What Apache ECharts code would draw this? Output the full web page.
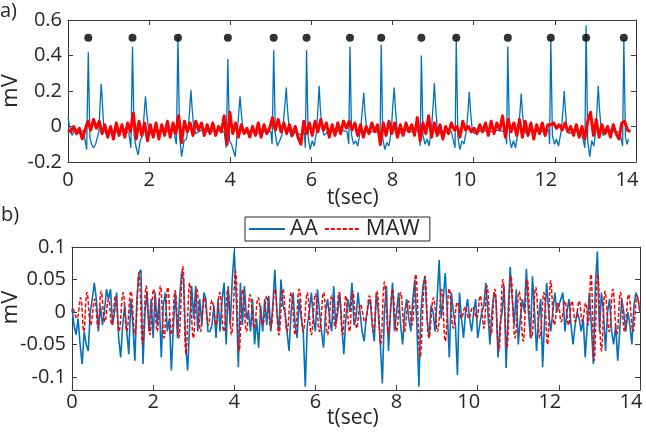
<!DOCTYPE html>
<html><head><meta charset="utf-8">
<script src="https://cdn.jsdelivr.net/npm/echarts/dist/echarts.min.js"></script>
<style>html,body{margin:0;padding:0;background:#fff}#c{width:646px;height:435px}</style>
</head><body><div id="c"></div>
<script>
// ---------- data ----------
const xTicks = [0, 2, 4, 6, 8, 10, 12, 14];
const yTicksA = [-0.2, 0, 0.2, 0.4, 0.6];
const yTicksB = [-0.1, -0.05, 0, 0.05, 0.1];

// panel a: detected R peaks (sec) and marker level (mV)
const rPeakTimes = [0.50, 1.59, 2.71, 3.94, 5.07, 5.88, 6.95, 7.72, 8.71, 9.57, 10.84, 11.90, 12.77, 13.70];
const rPeakMarkerLevel = 0.5;

// panel a: ECG (blue) as [t, mV] vertices
const ecgPoints = [
 [0,0.05],[0.04,0.0],[0.1,-0.05],[0.18,-0.01],[0.28,-0.04],[0.38,-0.02],[0.46,-0.13],[0.5,0.42],[0.54,-0.06],[0.58,-0.1],[0.63,-0.12],[0.68,-0.1],[0.72,-0.11],[0.76,-0.03],[0.79,0.12],[0.82,0.24],[0.85,0.12],[0.88,0.0],[0.93,-0.04],[1.05,-0.02],[1.2,-0.03],[1.35,-0.01],[1.5,-0.04],
 [1.55,-0.12],[1.59,0.45],[1.63,-0.05],[1.68,-0.12],[1.73,-0.16],[1.78,-0.08],[1.84,-0.05],[1.88,0.08],[1.91,0.17],[1.94,0.08],[1.98,-0.01],[2.03,-0.04],[2.2,-0.02],[2.4,-0.03],[2.6,-0.02],
 [2.67,-0.1],[2.71,0.5],[2.75,-0.05],[2.8,-0.17],[2.86,-0.08],[2.92,-0.07],[2.97,0.0],[3.0,0.1],[3.03,0.205],[3.06,0.1],[3.1,-0.01],[3.15,-0.04],[3.3,-0.02],[3.5,-0.03],[3.7,-0.02],[3.85,-0.03],
 [3.9,-0.12],[3.94,0.38],[3.98,-0.08],[4.03,-0.1],[4.08,-0.14],[4.12,-0.17],[4.17,-0.04],[4.21,0.08],[4.24,0.17],[4.27,0.08],[4.31,-0.01],[4.36,-0.04],[4.5,-0.02],[4.7,-0.04],[4.9,-0.02],[5.0,-0.03],
 [5.03,-0.1],[5.07,0.43],[5.11,-0.04],[5.16,-0.11],[5.22,-0.08],[5.28,-0.04],[5.34,0.1],[5.38,0.22],[5.41,0.1],[5.45,-0.01],[5.5,-0.06],[5.6,-0.03],[5.75,-0.05],[5.82,-0.03],
 [5.85,-0.12],[5.88,0.43],[5.92,-0.06],[5.97,-0.13],[6.02,-0.08],[6.07,-0.11],[6.13,-0.02],[6.16,0.1],[6.19,0.23],[6.22,0.1],[6.26,-0.01],[6.31,-0.05],[6.45,-0.02],[6.6,-0.03],[6.75,-0.02],[6.88,-0.03],
 [6.92,-0.1],[6.95,0.45],[6.99,-0.05],[7.04,-0.1],[7.09,-0.08],[7.14,-0.11],[7.21,-0.02],[7.25,0.08],[7.29,0.19],[7.32,0.08],[7.36,-0.01],[7.41,-0.04],[7.55,-0.02],[7.66,-0.04],
 [7.69,-0.11],[7.72,0.46],[7.76,-0.07],[7.81,-0.13],[7.86,-0.09],[7.91,-0.11],[7.97,-0.02],[8.0,0.1],[8.04,0.22],[8.07,0.1],[8.11,-0.01],[8.16,-0.04],[8.3,-0.02],[8.45,-0.03],[8.6,-0.02],[8.66,-0.04],
 [8.68,-0.11],[8.71,0.4],[8.75,-0.05],[8.8,-0.1],[8.85,-0.07],[8.9,-0.11],[8.96,-0.01],[9.0,0.12],[9.03,0.245],[9.06,0.12],[9.1,-0.01],[9.15,-0.04],[9.3,-0.02],[9.45,-0.03],
 [9.54,-0.12],[9.57,0.49],[9.61,-0.06],[9.66,-0.13],[9.71,-0.08],[9.76,-0.1],[9.82,-0.02],[9.86,0.09],[9.89,0.195],[9.92,0.09],[9.96,-0.01],[10.01,-0.04],[10.2,-0.02],[10.4,-0.03],[10.6,-0.02],[10.78,-0.03],
 [10.81,-0.1],[10.84,0.45],[10.88,-0.06],[10.93,-0.12],[10.98,-0.08],[11.03,-0.12],[11.1,-0.02],[11.14,0.08],[11.17,0.185],[11.2,0.08],[11.24,-0.01],[11.29,-0.04],[11.45,-0.02],[11.65,-0.03],[11.85,-0.02],
 [11.87,-0.1],[11.9,0.49],[11.94,-0.05],[11.99,-0.1],[12.04,-0.07],[12.09,-0.11],[12.16,-0.02],[12.2,0.09],[12.23,0.2],[12.26,0.09],[12.3,-0.01],[12.35,-0.04],[12.5,-0.02],[12.65,-0.03],
 [12.74,-0.12],[12.77,0.57],[12.81,-0.08],[12.86,-0.17],[12.91,-0.08],[12.96,-0.11],[13.01,-0.02],[13.04,0.1],[13.07,0.23],[13.1,0.1],[13.14,-0.01],[13.19,-0.05],[13.35,-0.02],[13.5,-0.03],[13.6,-0.03],
 [13.67,-0.11],[13.7,0.49],[13.74,-0.06],[13.78,-0.1],[13.82,-0.07]
];

// panel a: red noise, sampled every noiseStep seconds (mV)
const noiseStep = 0.07;
const noiseValues = [
 -0.02,-0.03,0.0,-0.04,-0.01,-0.07,-0.02,0.03,-0.02,0.04,
 -0.01,0.03,-0.04,0.01,-0.06,0.0,-0.07,0.02,-0.05,0.01,
 -0.06,0.02,-0.03,0.075,-0.07,0.03,-0.05,0.02,-0.08,0.01,
 -0.06,0.02,-0.07,0.01,-0.05,0.03,-0.06,0.02,-0.04,0.06,
 -0.09,0.03,-0.03,0.02,-0.05,0.03,-0.02,0.02,-0.05,0.01,
 -0.04,0.02,-0.05,0.0,-0.03,0.06,-0.1,0.08,-0.04,0.02,
 -0.06,0.01,-0.04,-0.01,-0.06,0.0,-0.05,0.02,-0.06,0.01,
 -0.04,-0.01,0.05,-0.02,0.04,-0.03,0.02,-0.04,0.01,-0.05,
 0.0,-0.06,-0.1,0.03,-0.04,0.02,-0.05,0.03,-0.03,0.04,
 -0.02,0.02,-0.06,0.01,-0.05,0.02,-0.04,0.03,-0.01,0.03,
 -0.02,0.02,-0.05,0.01,-0.06,0.0,-0.04,0.02,-0.03,0.01,
 -0.1,0.02,-0.05,0.03,-0.04,0.02,-0.06,0.01,-0.05,0.02,
 -0.03,0.01,-0.05,0.05,-0.08,0.02,-0.04,0.06,-0.06,0.02,
 -0.05,0.01,-0.07,0.0,-0.04,0.02,-0.02,0.0,-0.06,0.03,
 -0.02,0.0,-0.03,-0.01,-0.04,0.01,-0.03,0.02,-0.05,0.03,
 -0.04,0.02,-0.02,0.06,-0.06,0.04,-0.03,0.02,-0.05,0.04,
 -0.06,0.03,-0.05,0.02,-0.07,0.01,-0.04,0.02,-0.05,0.01,
 0.01,0.02,-0.01,0.01,-0.02,0.02,-0.03,0.0,-0.05,0.01,
 -0.06,0.0,-0.07,0.03,0.08,-0.05,0.04,-0.06,0.01,-0.04,
 0.0,-0.06,0.01,-0.04,-0.07,0.02,0.03,-0.02,-0.03
];

// panel b: AA (blue), sampled every aaStep seconds (mV)
const aaStep = 0.05;
const aaValues = [
 0.005,-0.02,-0.035,-0.01,-0.05,-0.08,-0.03,-0.05,-0.06,0.0,0.02,0.045,0.02,-0.03,0.01,-0.02,0.0,0.035,0.02,0.035,
 -0.02,0.0,0.03,-0.04,-0.07,-0.02,0.01,-0.03,-0.065,0.02,-0.02,-0.075,0.02,0.06,0.065,-0.08,0.0,0.03,-0.03,0.02,
 -0.04,0.03,-0.02,0.02,-0.07,0.01,0.03,-0.03,-0.01,-0.09,-0.02,0.03,-0.04,0.02,0.06,0.05,-0.05,-0.09,-0.02,0.04,
 -0.01,0.04,-0.03,0.02,-0.02,0.03,0.02,-0.03,-0.03,-0.02,0.01,-0.04,0.02,-0.03,0.02,0.045,-0.05,0.04,-0.02,0.05,
 0.094,0.02,-0.085,0.045,-0.02,0.04,-0.01,0.0,-0.03,0.02,-0.05,-0.01,-0.055,0.01,-0.03,0.02,-0.02,0.025,-0.03,0.01,
 0.065,0.0,-0.03,0.05,0.01,0.0,-0.03,-0.06,0.0,0.03,-0.02,-0.04,0.02,-0.01,-0.03,-0.115,-0.02,0.0,0.03,-0.01,
 -0.03,0.035,0.0,-0.03,-0.055,0.0,0.02,-0.01,-0.03,0.04,-0.02,0.0,0.03,-0.02,-0.065,-0.01,0.02,0.0,0.045,-0.02,
 -0.01,0.03,0.0,-0.03,-0.045,-0.01,0.01,0.02,-0.02,-0.045,0.03,0.0,-0.05,-0.11,0.0,0.04,-0.06,0.0,0.045,-0.03,
 0.0,0.03,-0.02,-0.05,0.0,0.02,-0.01,-0.03,0.02,0.05,-0.02,-0.115,0.0,0.04,0.055,-0.01,-0.04,0.01,0.0,-0.03,
 0.02,0.08,-0.01,0.02,0.06,0.0,-0.07,0.03,0.0,-0.02,-0.097,0.03,-0.01,-0.04,0.0,0.02,-0.01,-0.03,0.0,0.02,
 -0.04,-0.02,0.0,0.01,0.045,0.0,-0.05,0.0,0.03,0.02,-0.07,-0.02,0.0,0.04,-0.086,0.0,0.069,0.02,-0.02,0.035,
 -0.05,-0.01,0.02,0.0,0.066,0.0,-0.04,0.055,0.0,-0.06,-0.01,0.02,-0.085,-0.01,0.045,0.0,-0.03,0.0,0.03,0.0,
 0.01,0.02,0.03,-0.03,0.0,0.02,-0.02,-0.05,-0.02,0.0,-0.01,-0.03,-0.01,-0.07,-0.02,0.03,-0.02,-0.08,0.04,0.093,
 -0.03,0.03,0.0,-0.06,0.0,0.02,-0.03,-0.05,-0.02,-0.075,-0.03,0.02,0.0,-0.03,0.0,-0.02,-0.05,0.01,0.03,0.02,
 0.0
];

// panel b: MAW (red dashed) extremes as [t, mV]
const mawPoints = [
 [0.03,0.005],[0.12,-0.01],[0.21,0.022],[0.29,-0.03],[0.37,0.03],[0.46,-0.02],[0.56,0.02],[0.64,-0.025],[0.72,0.032],[0.81,-0.015],
 [0.9,0.02],[0.98,-0.02],[1.07,0.025],[1.16,-0.03],[1.26,0.03],[1.35,-0.03],[1.45,0.032],[1.55,-0.035],[1.65,0.06],[1.74,-0.05],
 [1.83,0.04],[1.92,-0.035],[2.01,0.035],[2.1,-0.03],[2.18,0.04],[2.27,-0.04],[2.36,0.038],[2.45,-0.035],[2.54,0.033],[2.63,-0.04],
 [2.73,0.07],[2.81,-0.065],[2.9,0.045],[2.99,-0.04],[3.08,0.035],[3.17,-0.03],[3.26,0.022],[3.36,-0.02],[3.45,0.018],[3.55,-0.02],
 [3.64,0.03],[3.74,-0.03],[3.84,0.035],[3.93,-0.035],[4.03,0.063],[4.12,-0.06],[4.21,0.035],[4.3,-0.03],[4.39,0.027],[4.49,-0.025],
 [4.59,0.022],[4.7,-0.02],[4.8,0.025],[4.9,-0.025],[5.0,0.035],[5.1,-0.035],[5.2,0.035],[5.3,-0.03],[5.4,0.03],[5.5,-0.035],
 [5.6,0.035],[5.7,-0.03],[5.8,0.03],[5.9,-0.035],[6.0,0.028],[6.1,-0.03],[6.2,0.03],[6.3,-0.035],[6.4,0.025],[6.49,-0.025],
 [6.58,0.03],[6.67,-0.035],[6.75,0.025],[6.84,-0.03],[6.92,0.032],[7.02,-0.025],[7.11,0.012],[7.22,-0.015],[7.33,0.025],[7.43,-0.03],
 [7.52,0.032],[7.61,-0.05],[7.7,0.046],[7.8,-0.035],[7.9,0.035],[8.0,-0.03],[8.1,0.03],[8.2,-0.03],[8.29,0.017],[8.38,-0.02],
 [8.47,0.058],[8.58,-0.07],[8.7,0.055],[8.8,-0.04],[8.91,0.022],[9.01,-0.03],[9.11,0.035],[9.2,-0.045],[9.3,0.036],[9.4,-0.025],
 [9.5,0.015],[9.6,-0.01],[9.69,0.008],[9.78,-0.01],[9.88,0.008],[9.97,-0.01],[10.06,0.025],[10.15,-0.025],[10.23,0.04],[10.33,-0.035],
 [10.42,0.035],[10.52,-0.06],[10.62,0.05],[10.72,-0.055],[10.82,0.055],[10.92,-0.04],[11.02,0.032],[11.12,-0.045],[11.22,0.05],[11.33,-0.04],
 [11.43,0.038],[11.53,-0.04],[11.63,0.03],[11.72,-0.05],[11.8,0.048],[11.89,-0.02],[11.98,0.015],[12.06,-0.015],[12.15,0.017],[12.24,-0.02],
 [12.32,0.017],[12.41,-0.015],[12.5,0.017],[12.58,-0.015],[12.66,0.014],[12.72,-0.02],[12.79,0.058],[12.87,-0.075],[12.96,0.058],[13.05,-0.06],
 [13.14,0.032],[13.24,-0.03],[13.33,0.035],[13.43,-0.035],[13.52,0.03],[13.62,-0.03],[13.72,0.027],[13.83,-0.03],[13.93,0.025],[14.0,0.0]
];

// ---------- chart ----------
const FONT = 'Open Sans';
const INK = '#262626';
const AX = '#3a3a3a';
const BLUE = '#0072BD';
const RED = '#FF0000';

function xLabelFmt(v) { return v >= 10 ? '{w|' + v + '}' : String(v); }
const xRich = { w: { padding: [0, 18, 0, 0], fontSize: 20, fontFamily: FONT, color: INK } };

function xBottom(grid, margin) {
  return {
    type: 'value', gridIndex: grid, position: 'bottom', min: 0, max: 14, interval: 2,
    axisLine: { show: true, onZero: false, lineStyle: { color: AX, width: 1 } },
    axisTick: { show: true, inside: true, length: 5, lineStyle: { color: AX } },
    splitLine: { show: false },
    axisLabel: { margin: margin, fontSize: 20, fontFamily: FONT, color: INK, formatter: xLabelFmt, rich: xRich }
  };
}
function xTop(grid) {
  return {
    type: 'value', gridIndex: grid, position: 'top', min: 0, max: 14, interval: 2,
    axisLine: { show: true, onZero: false, lineStyle: { color: AX, width: 1 } },
    axisTick: { show: true, inside: true, length: 5, lineStyle: { color: AX } },
    splitLine: { show: false }, axisLabel: { show: false }
  };
}
function yLeft(grid, min, max, ticks, nameGap, namePad) {
  return {
    type: 'value', gridIndex: grid, position: 'left', min: min, max: max,
    axisLine: { show: true, onZero: false, lineStyle: { color: AX, width: 1 } },
    axisTick: { show: true, inside: true, length: 5, customValues: ticks, lineStyle: { color: AX } },
    splitLine: { show: false },
    axisLabel: { customValues: ticks, margin: 6, fontSize: 20, fontFamily: FONT, color: INK, formatter: v => String(v) },
    name: 'mV', nameLocation: 'middle', nameGap: nameGap, nameMoveOverlap: false,
    nameTextStyle: { fontSize: 22, fontFamily: FONT, color: INK, padding: namePad }
  };
}
function yRight(grid, min, max, ticks) {
  return {
    type: 'value', gridIndex: grid, position: 'right', min: min, max: max,
    axisLine: { show: true, onZero: false, lineStyle: { color: AX, width: 1 } },
    axisTick: { show: true, inside: true, length: 5, customValues: ticks, lineStyle: { color: AX } },
    splitLine: { show: false }, axisLabel: { show: false }
  };
}
const txt = { fontSize: 20, fontWeight: 'normal', fontFamily: FONT, color: INK };
const axTitle = { fontSize: 21, fontWeight: 'normal', fontFamily: FONT, color: INK };

const chart = echarts.init(document.getElementById('c'), null, { renderer: 'canvas' });
chart.setOption({
  animation: false,
  backgroundColor: '#ffffff',
  title: [
    { text: 'a)', left: 0, top: 1, padding: 0, textStyle: txt },
    { text: 'b)', left: 1, top: 205, padding: 0, textStyle: txt },
    { text: 't(sec)', left: 327, top: 188, padding: 0, textStyle: axTitle },
    { text: 't(sec)', left: 327, top: 408, padding: 0, textStyle: axTitle }
  ],
  legend: {
    data: ['AA', 'MAW'], left: 245, top: 217, orient: 'horizontal',
    borderColor: INK, borderWidth: 1, borderRadius: 0, padding: [1, 10, 1, 3],
    itemWidth: 36, itemHeight: 12, itemGap: 6,
    itemStyle: { opacity: 0 },
    textStyle: { fontSize: 22, fontFamily: FONT, color: INK }
  },
  grid: [
    { left: 68, top: 20, width: 568, height: 142, containLabel: false, outerBoundsMode: 'none' },
    { left: 72, top: 247, width: 568, height: 143, containLabel: false, outerBoundsMode: 'none' }
  ],
  xAxis: [xBottom(0, 8), xTop(0), xBottom(1, 2), xTop(1)],
  yAxis: [
    yLeft(0, -0.2, 0.6, yTicksA, 46, [0, 0, 0, 0]), yRight(0, -0.2, 0.6, yTicksA),
    yLeft(1, -0.12, 0.1, yTicksB, 50, [0, 0, 0, 22]), yRight(1, -0.12, 0.1, yTicksB)
  ],
  series: [
    { name: 'ECG', type: 'line', xAxisIndex: 0, yAxisIndex: 0, data: ecgPoints, symbol: 'none',
      lineStyle: { color: BLUE, width: 1.3 }, itemStyle: { color: BLUE }, z: 2 },
    { name: 'noise', type: 'line', xAxisIndex: 0, yAxisIndex: 0,
      data: noiseValues.map((v, i) => [i * noiseStep, v]), symbol: 'none',
      lineStyle: { color: RED, width: 3, join: 'round' }, itemStyle: { color: RED }, z: 3 },
    { name: 'Rpeaks', type: 'scatter', xAxisIndex: 0, yAxisIndex: 0,
      data: rPeakTimes.map(t => [t, rPeakMarkerLevel]), symbol: 'circle', symbolSize: 8,
      itemStyle: { color: '#000000' }, z: 4 },
    { name: 'AA', type: 'line', xAxisIndex: 2, yAxisIndex: 2,
      data: aaValues.map((v, i) => [i * aaStep, v]), symbol: 'none',
      lineStyle: { color: BLUE, width: 1.6 }, itemStyle: { color: BLUE }, z: 2 },
    { name: 'MAW', type: 'line', xAxisIndex: 2, yAxisIndex: 2, data: mawPoints, symbol: 'none', smooth: 0.4,
      lineStyle: { color: RED, width: 1.5, type: [4, 2] }, itemStyle: { color: RED }, z: 3 }
  ]
});
</script>
</body></html>
